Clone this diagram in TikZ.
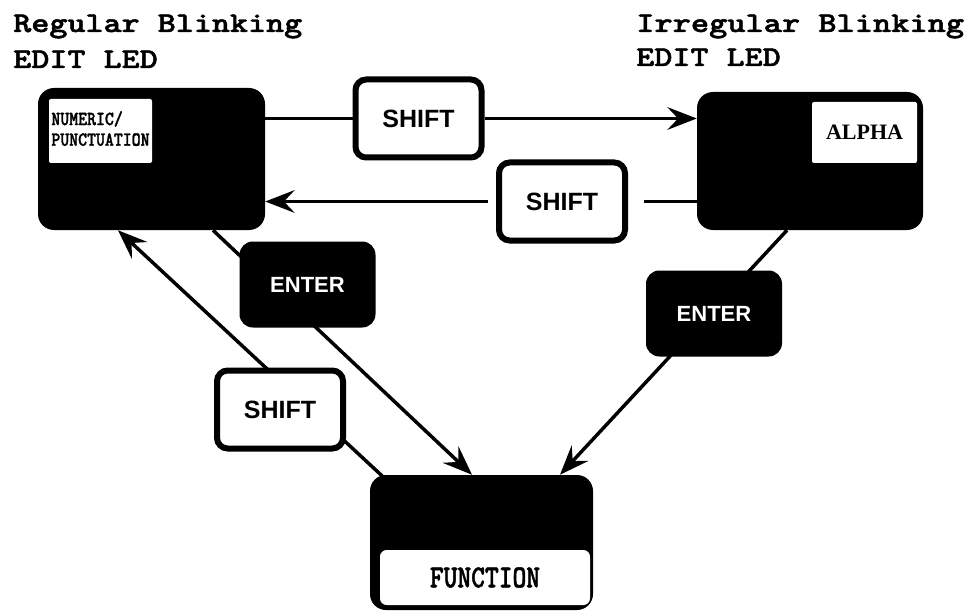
\documentclass[tikz,border=0pt]{standalone}
\usepackage{fontspec}
\setmainfont{Liberation Sans}
\newfontfamily\serifb{Liberation Serif}
\newfontfamily\ttheavy{lmmonolt10-bold}[Extension=.otf, FakeBold=1.6]
\usetikzlibrary{arrows.meta,calc}
\pgfdeclarelayer{paper}
\pgfdeclarelayer{back}
\pgfsetlayers{paper,back,main}

\begin{document}
\begin{tikzpicture}[x=0.75pt,y=-0.75pt,
  conn/.style={line width=2.6pt, black},
  arr/.style={conn, -{Stealth[length=22pt,width=17pt,inset=8pt]}},
  keybox/.style={draw=black, line width=4.5pt, fill=white, rounded corners=8pt, inner sep=0pt,
    minimum width=94.5pt, minimum height=58.5pt, font=\fontsize{18.75}{20}\selectfont\bfseries},
  darkkey/.style={fill=black, rounded corners=10pt, inner sep=0pt, text=white,
    minimum width=102pt, minimum height=64.5pt, font=\fontsize{16.5}{18}\selectfont\bfseries},
  modebox/.style={fill=black, rounded corners=12pt, inner sep=0pt},
  label/.style={fill=white, rounded corners=1.5pt, inner sep=0pt},
  title/.style={anchor=base west, inner sep=0pt, font=\ttheavy\fontsize{21.5}{27}\selectfont},
]
\begin{pgfonlayer}{paper}
\fill[white] (0,0) rectangle (971,613);
\end{pgfonlayer}
\useasboundingbox (0,0) rectangle (971,613);

% titles
\node[title] (t1a) at (13,32) {\scalebox{1.2}[1]{Regular Blinking}};
\node[title] (t1b) at (13,68) {\scalebox{1.2}[1]{EDIT LED}};
\node[title] (t2a) at (636,32) {\scalebox{1.21}[1]{Irregular Blinking}};
\node[title] (t2b) at (636,66) {\scalebox{1.2}[1]{EDIT LED}};

% mode boxes
\node[modebox, minimum width=170.25pt, minimum height=106.5pt] (numeric) at (151.5,159) {};
\node[label, minimum width=77.25pt, minimum height=48pt,
  font=\ttheavy\fontsize{15}{16.5}\selectfont] (numlabel) at (100.5,131)
  {\scalebox{0.85}[1]{\begin{tabular}{@{}l@{}}NUMERIC/\\[-1pt]PUNCTUATION\end{tabular}}};

\node[modebox, minimum width=169.5pt, minimum height=103.5pt] (alpha) at (810,161) {};
\node[label, minimum width=78.75pt, minimum height=45.75pt,
  font=\serifb\bfseries\fontsize{16.5}{17}\selectfont] (alphalabel) at (864.5,132.5) {ALPHA};

\node[modebox, minimum width=167.25pt, minimum height=101.25pt] (function) at (481.5,542.5) {};
\node[label, rounded corners=5pt, minimum width=157.5pt, minimum height=41.25pt,
  font=\ttheavy\fontsize{24}{24}\selectfont] (funclabel) at (485,577.5)
  {\scalebox{0.82}[1]{FUNCTION}};

% keys
\node[keybox] (shift1) at (418.5,118.5) {SHIFT};
\node[keybox] (shift2) at (562,201.5) {SHIFT};
\node[keybox] (shift3) at (280,409.5) {SHIFT};
\node[darkkey] (enter1) at (307.5,284.5) {ENTER};
\node[darkkey] (enter2) at (714,313.5) {ENTER};

% connectors
\begin{pgfonlayer}{back}
\draw[conn] (numeric.east |- shift1.west) -- (shift1.west);
\draw[arr] (shift1.east) -- (shift1.east -| alpha.west);
\draw[conn, shorten >=12pt] (alpha.west |- shift2.east) -- (shift2.east);
\draw[arr, shorten <=6pt] (shift2.west) -- (shift2.west -| numeric.east);
\draw[arr] ($(numeric.south)+(61.5,0)$) -- ($(function.north)+(-9.5,0)$);
\draw[arr] ($(alpha.south)+(-23,0)$) -- ($(function.north)+(78.5,0)$);
\draw[arr] ($(function.north)+(-98.5,2)$) -- ($(numeric.south)+(-33.5,0)$);
\end{pgfonlayer}
\end{tikzpicture}
\end{document}
